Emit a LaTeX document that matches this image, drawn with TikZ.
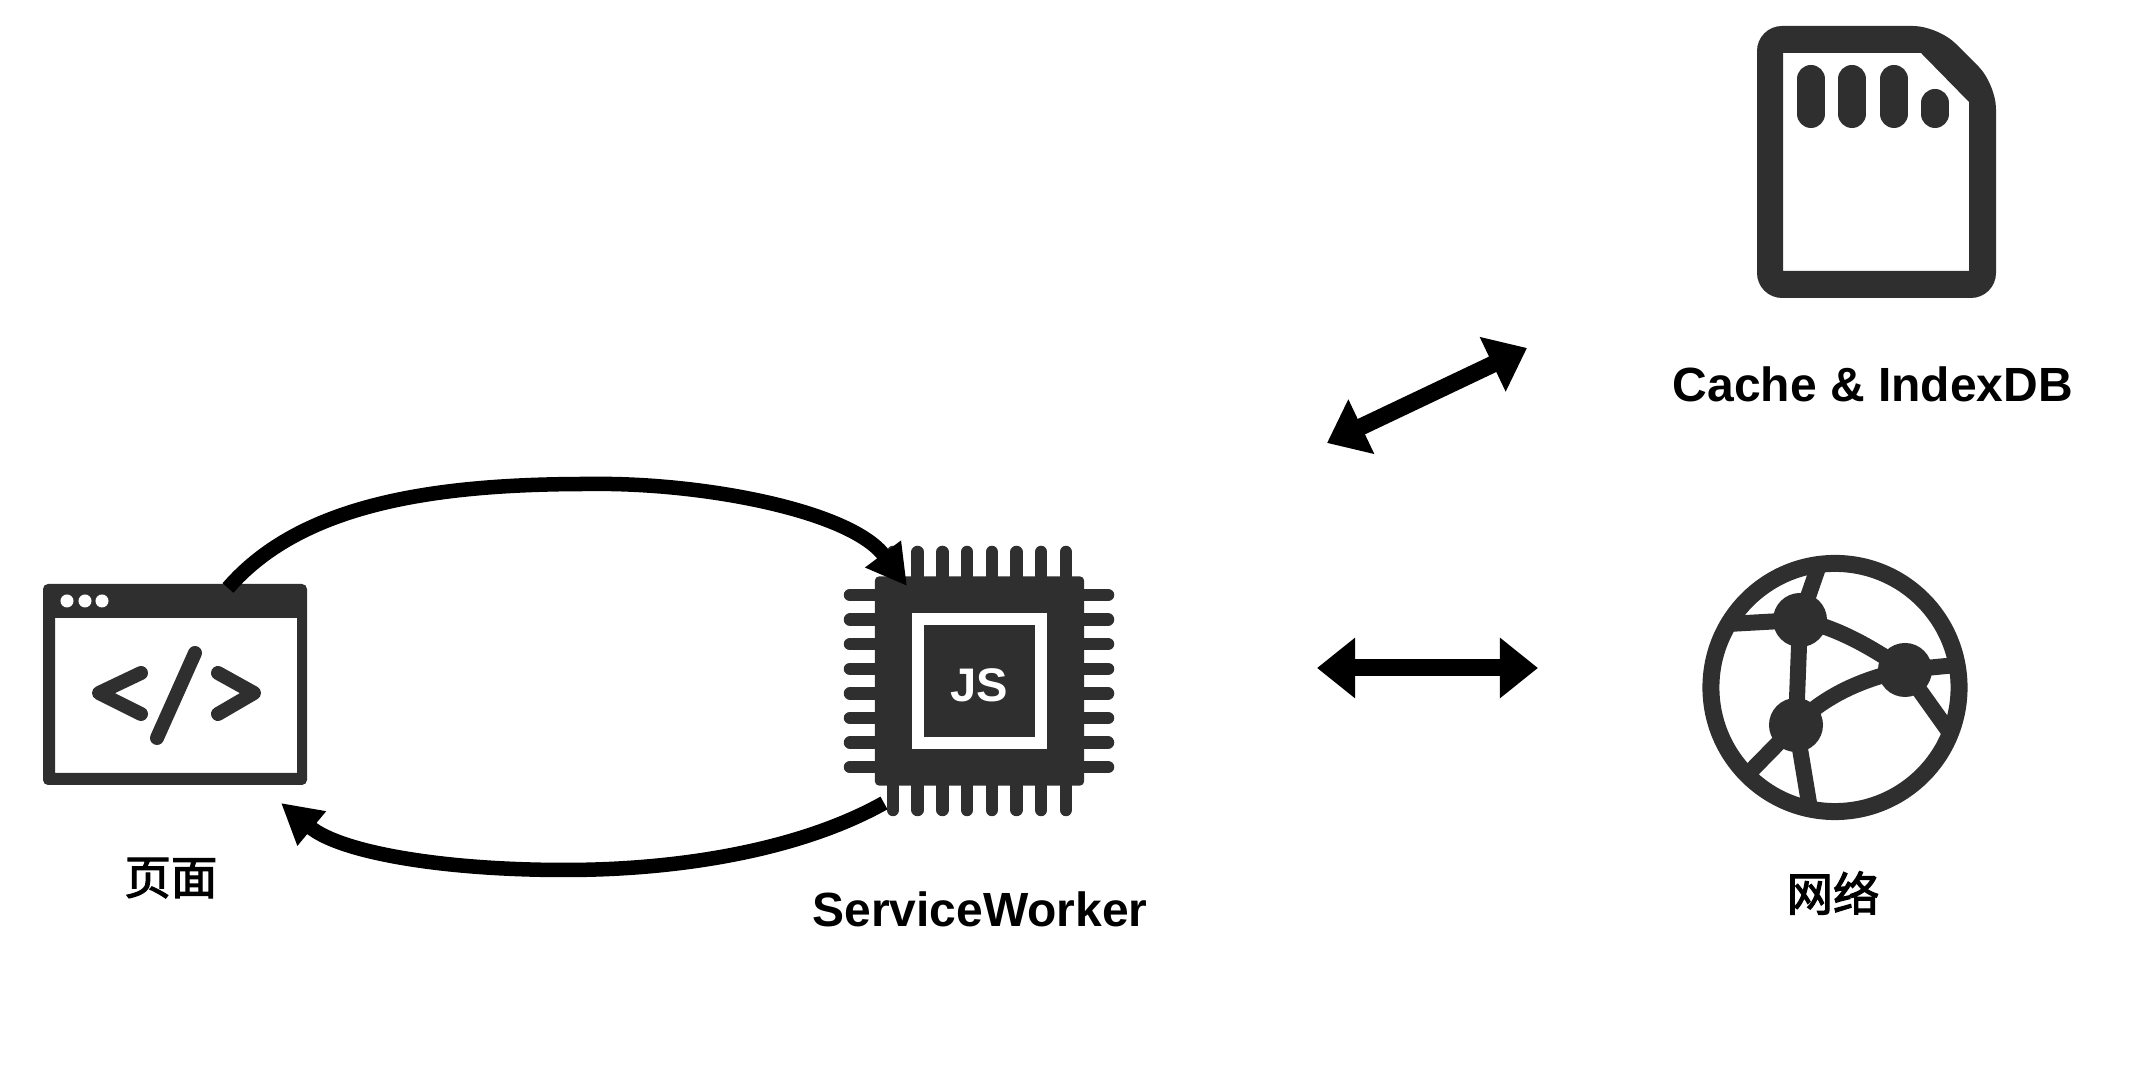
\documentclass[tikz,border=0pt]{standalone}
\usepackage{fontspec}
\setmainfont{Liberation Sans}
\newfontfamily\cjk[FakeBold=2.5]{Noto Sans CJK SC}
\usetikzlibrary{arrows.meta}
\definecolor{iconc}{HTML}{2F2F2F}
\tikzset{
  namelabel/.style={font=\bfseries\fontsize{13.65}{16}\selectfont},
  cjklabel/.style={font=\cjk\fontsize{13.2}{16}\selectfont},
  pin/.style={iconc,line width=.125cm,line cap=round},
  codeline/.style={iconc,line width=.14cm,line cap=round,line join=round},
  link/.style={iconc,line width=.16cm},
  hub/.style={circle,fill=iconc,minimum size=.54cm,inner sep=0pt},
  flow/.style={line width=.145cm,-{Triangle[length=.40cm,width=.42cm]}},
  both/.style={line width=.17cm,{Triangle[length=.38cm,width=.58cm]}-{Triangle[length=.38cm,width=.58cm]}}
}
\begin{document}
\begin{tikzpicture}[x=.01cm,y=-.01cm]
        \useasboundingbox (0,0) rectangle (2144,1074);
        \coordinate (PO) at (228,588);
        \coordinate (PI) at (281,803);
        \coordinate (PT) at (588,484);
        \coordinate (WI) at (907,586);
        \coordinate (WO) at (884,803);
        \coordinate (WB) at (565,870);
        \coordinate (CL) at (1327,443);
        \coordinate (CR) at (1527,348);
        \coordinate (NL) at (1317,668);
        \coordinate (NR) at (1538,668);
        \fill[iconc,even odd rule,rounded corners=.05cm] (43,584) rectangle (307,785) [sharp corners] (55,618) rectangle (297,773);
        \foreach \x in {67,85,102} \fill[white] (\x,601) circle (.065cm);
        \draw[codeline] (141,673)--(99,693)--(141,714);
        \draw[codeline] (218,673)--(254,693)--(218,714);
        \draw[codeline] (195,653)--(157,738);
        \node[cjklabel] (page) at (171,878) {页面};
        \draw[flow] (WO) .. controls (800,850) and (680,870) .. (WB) .. controls (440,870) and (340,852) .. (PI);
        \foreach \i in {0,...,7} {
          \draw[pin] (893+24.7*\i,580)--(893+24.7*\i,552);
          \draw[pin] (893+24.7*\i,780)--(893+24.7*\i,810);
          \draw[pin] (880,595+24.6*\i)--(850,595+24.6*\i);
          \draw[pin] (1080,595+24.6*\i)--(1108,595+24.6*\i);
        }
        \node[fill=iconc,rounded corners=.04cm,minimum size=2.09cm,inner sep=0pt] (chip) at (979.5,681) {};
        \node[fill=iconc,draw=white,line width=.12cm,minimum size=1.23cm,inner sep=0pt,text=white,text height=.42cm,text depth=0pt,font=\bfseries\fontsize{13.4}{16}\selectfont] (js) at (979.5,681) {JS};
        \node[namelabel] (worker) at (980,909) {ServiceWorker};
        \draw[flow] (PO) .. controls (300,505) and (430,484) .. (PT) .. controls (700,482) and (850,510) .. (WI);
        \draw[both] (CL)--(CR);
        \draw[both] (NL)--(NR);
        \fill[iconc,even odd rule,rounded corners=.25cm] (1757,26)--(1938,26)--(1996,84)--(1996,298)--(1757,298)--cycle [sharp corners] (1783,53)--(1921,53)--(1969,102)--(1969,271)--(1783,271)--cycle;
        \foreach \x in {1811,1852,1894} \draw[iconc,line width=.28cm,line cap=round] (\x,79)--(\x,114);
        \draw[iconc,line width=.28cm,line cap=round] (1935,103)--(1935,114);
        \node[namelabel] (cache) at (1873,384) {Cache \& IndexDB};
        \draw[iconc,line width=.17cm] (1835,687.5) circle (1.24cm);
        \node[hub] (HA) at (1800,620) {};
        \node[hub] (HB) at (1905,670) {};
        \node[hub] (HC) at (1796,725) {};
        \coordinate (RT) at (1819,565);
        \coordinate (RL) at (1728,624);
        \coordinate (RR) at (1957,665);
        \coordinate (RD) at (1950,733);
        \coordinate (RS) at (1746,776);
        \coordinate (RB) at (1810,809);
        \draw[link] (HA.center)--(RT);
        \draw[link] (HA.center)--(RL);
        \draw[link] (HA.center)--(HC.center);
        \draw[link] (HA.center) .. controls (1840,628) and (1875,650) .. (HB.center);
        \draw[link] (HC.center) .. controls (1825,695) and (1865,678) .. (HB.center);
        \draw[link] (HB.center)--(RR);
        \draw[link] (HB.center)--(RD);
        \draw[link] (HC.center)--(RS);
        \draw[link] (HC.center)--(RB);
        \node[cjklabel] (net) at (1833,893) {网络};
\end{tikzpicture}
\end{document}
